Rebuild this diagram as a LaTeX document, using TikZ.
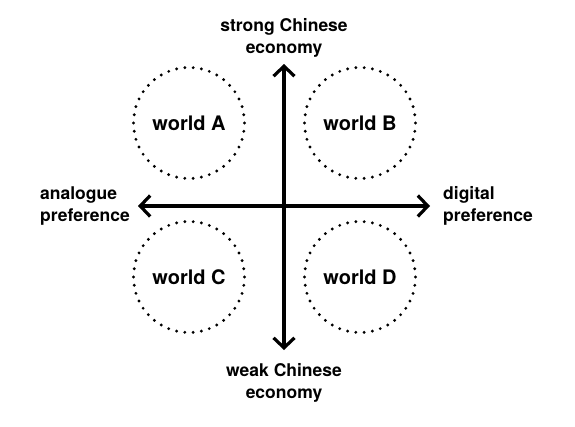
\documentclass[tikz,border=0pt]{standalone}
\usepackage{fontspec}
\setmainfont{TeX Gyre Heros}
\usetikzlibrary{positioning,arrows.meta}

\begin{document}
\begin{tikzpicture}[
  x=1pt, y=-1pt,
  font=\bfseries\fontsize{17.5}{22}\selectfont,
  world/.style={circle, minimum size=111pt, inner sep=0pt, draw,
    line width=3.2pt, line cap=round, dash pattern=on 0pt off 8.3pt,
    font=\bfseries\fontsize{20}{24}\selectfont},
  axislabel/.style={align=center, inner sep=0pt},
  axis/.style={line width=3.2pt, {Straight Barb[length=10pt, width=21pt]}-{Straight Barb[length=10pt, width=21pt]}}]
\useasboundingbox (0,0) rectangle (575,426);
% axis end points
\coordinate (top) at (284,64);
\coordinate (bot) at (284,350);
\coordinate (lft) at (138,206);
\coordinate (rgt) at (430,206);
% the four worlds
\node[world] (wa) at (189,123) {world A};
\node[world] (wb) at (360,123) {world B};
\node[world] (wc) at (189,277) {world C};
\node[world] (wd) at (360,277) {world D};
% axes
\draw[axis] (bot) -- (top);
\draw[axis] (lft) -- (rgt);
% axis labels
\node[axislabel] (se) at (284,38) {strong Chinese\\economy};
\node[axislabel] (we) at (284,383) {weak Chinese\\economy};
\node[axislabel, align=left, anchor=west] (ap) at (40,206) {analogue\\preference};
\node[axislabel, align=left, anchor=west] (dp) at (443,206) {digital\\preference};
\end{tikzpicture}
\end{document}
